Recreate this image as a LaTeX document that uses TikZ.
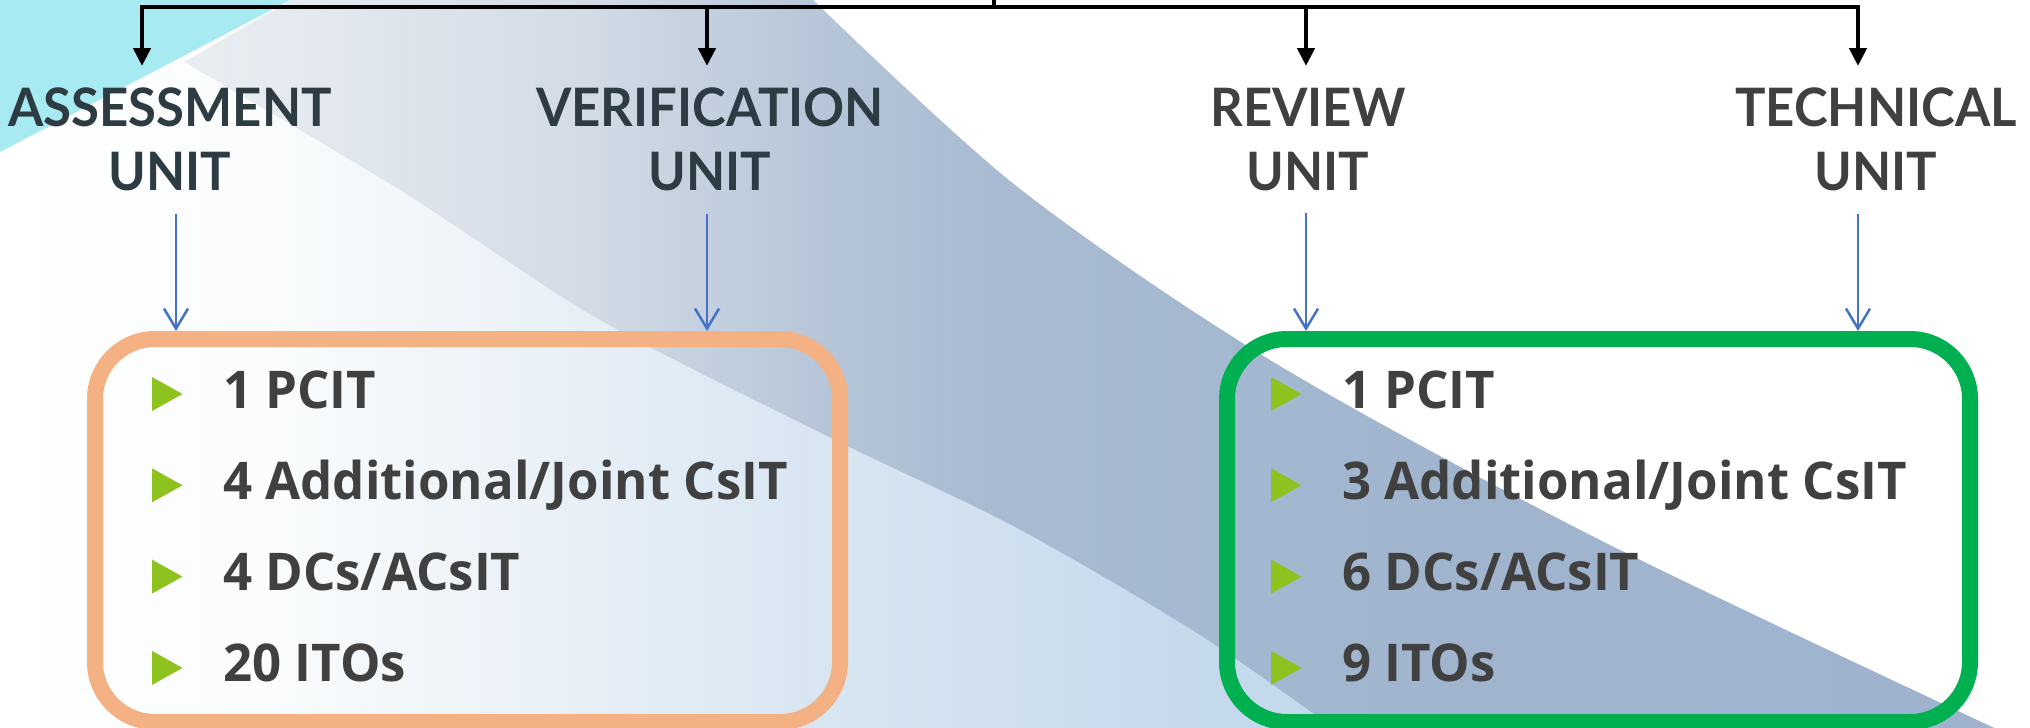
\documentclass[tikz,border=0pt]{standalone}
\usepackage{fontspec}
\usepackage{xcolor}
\usetikzlibrary{positioning, arrows.meta, calc}
\newfontfamily\headfont{Lato}[FakeStretch=0.96]
\newfontfamily\itemfont{Open Sans}[FakeStretch=0.98]
\definecolor{orgS}{HTML}{F4B183}
\definecolor{grnS}{HTML}{00B050}
\definecolor{arrB}{HTML}{4472C4}
\definecolor{bulG}{HTML}{8DC21F}
\definecolor{txtD}{HTML}{404040}
\definecolor{txtS}{HTML}{2D3B42}
\definecolor{bgCyan}{HTML}{A7EAF2}
\definecolor{bandA}{HTML}{E9EEF3}
\definecolor{bandB}{HTML}{E5EAF0}
\definecolor{bandC}{HTML}{D2DBE6}
\definecolor{bandD}{HTML}{B8C7D9}
\definecolor{bandE}{HTML}{A8BBD2}
\definecolor{bandF}{HTML}{A0B4CE}
\definecolor{bandG}{HTML}{9DB2CD}
\definecolor{lowA}{HTML}{FAFCFD}
\definecolor{lowB}{HTML}{EAF1F7}
\definecolor{lowC}{HTML}{D9E6F2}
\definecolor{lowD}{HTML}{C5D9EC}
\pgfdeclarehorizontalshading{bandshade}{100bp}{color(0bp)=(bandA); color(25bp)=(bandA);
  color(28bp)=(bandB); color(36bp)=(bandC); color(42bp)=(bandD); color(47bp)=(bandE);
  color(60bp)=(bandF); color(100bp)=(bandG)}
\pgfdeclarehorizontalshading{lowshade}{100bp}{color(0bp)=(white); color(25bp)=(white);
  color(35bp)=(lowA); color(45bp)=(lowB); color(55bp)=(lowC); color(70bp)=(lowD); color(100bp)=(lowD)}
\tikzset{
  unitlab/.style={font=\headfont\bfseries\fontsize{53}{64}\selectfont, align=center,
                  inner xsep=0pt, inner ysep=22pt, anchor=north},
  staff/.style={font=\itemfont\bfseries\fontsize{52}{60}\selectfont, text=txtD,
                anchor=base west, inner sep=0pt},
  grpbox/.style={draw, line width=16pt, rounded corners=60pt,
                 minimum width=745pt, minimum height=383pt},
  feed/.style={-{Triangle[width=17pt,length=18pt]}, line width=4.5pt, draw=black},
  link/.style={-{Straight Barb[width=24pt,length=20pt]}, line width=2.5pt, draw=arrB},
  bulletmark/.style={fill=bulG},
}
\begin{document}
\begin{tikzpicture}[x=1pt, y=-1pt]
  \useasboundingbox (0,0) rectangle (2030,728);
  \begin{scope}
    \clip (0,0) rectangle (2030,728);
    % background swoosh
    \fill[white] (0,0) rectangle (2030,728);
    \shade[shading=lowshade] (0,152) -- plot[smooth] coordinates {(184,62) (400,190) (600,320)
      (835,440) (1015,527) (1200,635) (1350,740)} -- (0,740) -- cycle;
    \shade[shading=bandshade] (184,62) -- (300,-5) -- plot[smooth] coordinates {(808,-5)
      (1015,185) (1270,360) (1600,540) (2020,740)}
      -- plot[smooth] coordinates {(1350,740) (1200,635) (1015,527) (835,440) (600,320)
      (400,190) (184,62)} -- cycle;
    \fill[bgCyan] (0,-5) -- (300,-5) -- (0,152) -- cycle;
  \end{scope}

  % units
  \node[unitlab, text=txtS] (asu)  at (170,66)  {ASSESSMENT\\UNIT};
  \node[unitlab, text=txtS] (veru) at (710,66)  {VERIFICATION\\UNIT};
  \node[unitlab, text=txtD] (revu) at (1308,66) {REVIEW\\UNIT};
  \node[unitlab, text=txtD] (tecu) at (1876,66) {TECHNICAL\\UNIT};

  % staff boxes
  \node[grpbox, draw=orgS] (obox) at (467.5,530.5) {};
  \node[grpbox, draw=grnS, minimum width=743pt] (gbox) at (1598.5,530.5) {};

  % top bar
  \coordinate (hub) at (994,-8);
  \coordinate (bar) at (994,7);
  \draw[feed, -] (hub) -- (bar);
  \foreach \d/\u in {142/asu, 707/veru, 1306/revu, 1858/tecu}
    \draw[feed] (bar) -| (\d,0 |- \u.north);

  % unit to box
  \foreach \d/\u/\b in {176/asu/obox, 707/veru/obox, 1306/revu/gbox, 1858/tecu/gbox}
    \draw[link] (\d,0 |- \u.south) -- (\d,0 |- \b.north);

  % staff lists
  \foreach \t [count=\i] in {{1 PCIT}, {4 Additional/Joint CsIT}, {4 DCs/ACsIT}, {20 ITOs}} {
    \node[staff] (o\i) at (223,{408+91.3*(\i-1)}) {\t};
    \fill[bulletmark] ($(o\i.base west)+(-71,-31)$) -- ++(0,34) -- ++(30.5,-17) -- cycle;
  }
  \foreach \t [count=\i] in {{1 PCIT}, {3 Additional/Joint CsIT}, {6 DCs/ACsIT}, {9 ITOs}} {
    \node[staff] (g\i) at (1342,{408+91.3*(\i-1)}) {\t};
    \fill[bulletmark] ($(g\i.base west)+(-71,-31)$) -- ++(0,34) -- ++(30.5,-17) -- cycle;
  }
\end{tikzpicture}
\end{document}
